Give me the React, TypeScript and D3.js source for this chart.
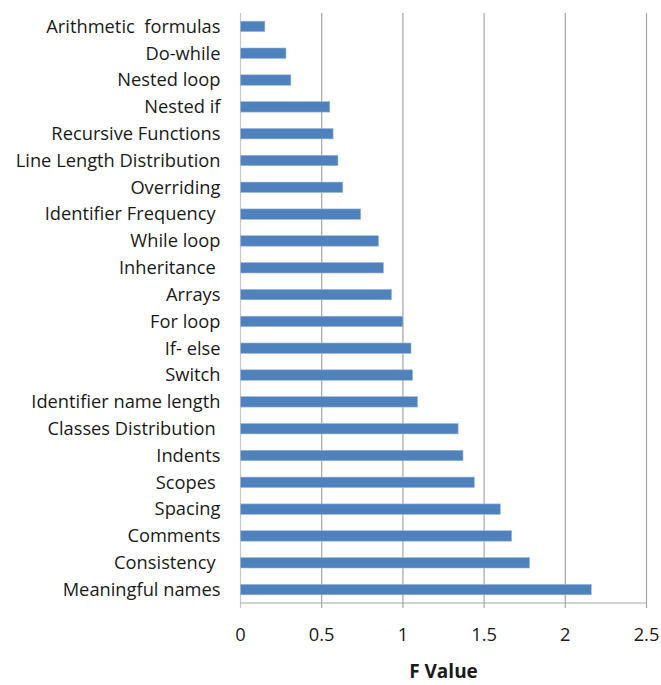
import React from 'react';
import * as d3 from 'd3';

const categories = [
    'Arithmetic  formulas', 'Do-while', 'Nested loop', 'Nested if', 'Recursive Functions',
    'Line Length Distribution', 'Overriding', 'Identifier Frequency ', 'While loop', 'Inheritance ',
    'Arrays', 'For loop', 'If- else', 'Switch', 'Identifier name length', 'Classes Distribution ',
    'Indents', 'Scopes ', 'Spacing', 'Comments', 'Consistency ', 'Meaningful names',
];
const fValues = [
    0.15, 0.28, 0.31, 0.55, 0.57, 0.6, 0.63, 0.74, 0.85, 0.88, 0.93,
    1.0, 1.05, 1.06, 1.09, 1.34, 1.37, 1.44, 1.6, 1.67, 1.78, 2.16,
];
const xTicks = [0, 0.5, 1, 1.5, 2, 2.5];

const W = 661;
const H = 685;
const margin = { top: 13, right: 14.5, bottom: 82, left: 240.5 };
const font = '"Open Sans", "Noto Sans", sans-serif';

const App: React.FC = () => {
    const innerW = W - margin.left - margin.right;
    const innerH = H - margin.top - margin.bottom;

    const x = d3.scaleLinear().domain([0, 2.5]).range([0, innerW]);
    const y = d3.scaleBand<string>().domain(categories).range([0, innerH]).paddingInner(0.61).paddingOuter(0.305);

    const data = categories.map((c, i) => ({ name: c, value: fValues[i] }));

    return (
        <svg width={W} height={H} style={{ position: 'absolute', left: 0, top: 0, background: '#fff' }}>
            <g transform={`translate(${margin.left},${margin.top})`}>
                {/* grid */}
                {xTicks.map(t => (
                    <line key={t} x1={x(t)} x2={x(t)} y1={0} y2={innerH + 5}
                        stroke={t === 0 ? '#c8c8c8' : '#a6a6a6'} strokeWidth={1.2} />
                ))}
                <line x1={0} x2={innerW} y1={innerH} y2={innerH} stroke="#a6a6a6" strokeWidth={1.2} />

                {/* bars */}
                {data.map(d => (
                    <rect key={d.name} x={x(0)} y={y(d.name)} width={x(d.value) - x(0)} height={y.bandwidth()}
                        fill="#4F81BD" stroke="#9db8dc" strokeWidth={0.6} />
                ))}

                {/* category labels */}
                {data.map(d => (
                    <text key={d.name} x={-20} y={(y(d.name) ?? 0) + y.bandwidth() / 2 + 6.3}
                        textAnchor="end" fontFamily={font} fontSize={18.3} fill="#1a1a1a"
                        style={{ whiteSpace: 'pre' }}>
                        {d.name}
                    </text>
                ))}

                {/* tick labels */}
                {xTicks.map(t => (
                    <text key={t} x={x(t)} y={innerH + 38} textAnchor="middle"
                        fontFamily={font} fontSize={18.3} fill="#1a1a1a">
                        {String(t)}
                    </text>
                ))}

                <text x={innerW / 2} y={innerH + 75} textAnchor="middle" fontFamily={font}
                    fontSize={19} fontWeight="bold" fill="#1a1a1a">
                    F Value
                </text>
            </g>
        </svg>
    );
};

export default App;
